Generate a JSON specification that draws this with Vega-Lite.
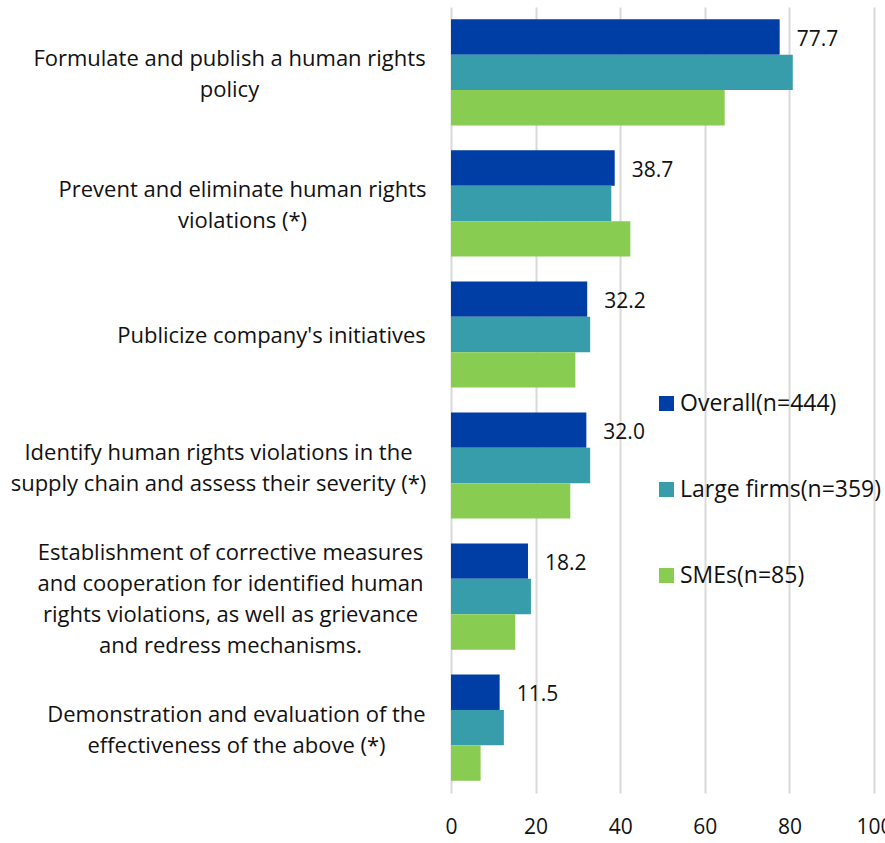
{
  "$schema": "https://vega.github.io/schema/vega-lite/v6.json",
  "autosize": {"type": "none"},
  "padding": {"left": 451, "top": 7, "right": 11, "bottom": 50},
  "width": 423,
  "height": 786,
  "background": "white",
  "config": {
    "view": {"stroke": null},
    "font": "Open Sans"
  },
  "data": {
    "values": [
      {"item": "Formulate and publish a human rights|policy", "series": "Overall(n=444)", "value": 77.7},
      {"item": "Formulate and publish a human rights|policy", "series": "Large firms(n=359)", "value": 80.8},
      {"item": "Formulate and publish a human rights|policy", "series": "SMEs(n=85)", "value": 64.7},
      {"item": "Prevent and eliminate human rights|violations (*)", "series": "Overall(n=444)", "value": 38.7},
      {"item": "Prevent and eliminate human rights|violations (*)", "series": "Large firms(n=359)", "value": 37.9},
      {"item": "Prevent and eliminate human rights|violations (*)", "series": "SMEs(n=85)", "value": 42.4},
      {"item": "Publicize company's initiatives", "series": "Overall(n=444)", "value": 32.2},
      {"item": "Publicize company's initiatives", "series": "Large firms(n=359)", "value": 32.9},
      {"item": "Publicize company's initiatives", "series": "SMEs(n=85)", "value": 29.4},
      {"item": "Identify human rights violations in the|supply chain and assess their severity (*)", "series": "Overall(n=444)", "value": 32.0},
      {"item": "Identify human rights violations in the|supply chain and assess their severity (*)", "series": "Large firms(n=359)", "value": 32.9},
      {"item": "Identify human rights violations in the|supply chain and assess their severity (*)", "series": "SMEs(n=85)", "value": 28.2},
      {"item": "Establishment of corrective measures|and cooperation for identified human|rights violations, as well as grievance|and redress mechanisms.", "series": "Overall(n=444)", "value": 18.2},
      {"item": "Establishment of corrective measures|and cooperation for identified human|rights violations, as well as grievance|and redress mechanisms.", "series": "Large firms(n=359)", "value": 18.9},
      {"item": "Establishment of corrective measures|and cooperation for identified human|rights violations, as well as grievance|and redress mechanisms.", "series": "SMEs(n=85)", "value": 15.2},
      {"item": "Demonstration and evaluation of the|effectiveness of the above (*)", "series": "Overall(n=444)", "value": 11.5},
      {"item": "Demonstration and evaluation of the|effectiveness of the above (*)", "series": "Large firms(n=359)", "value": 12.5},
      {"item": "Demonstration and evaluation of the|effectiveness of the above (*)", "series": "SMEs(n=85)", "value": 7.0}
    ]
  },
  "encoding": {
    "y": {
      "field": "item",
      "type": "nominal",
      "sort": null,
      "scale": {"paddingInner": 0.19, "paddingOuter": 0.094},
      "axis": {
        "title": null,
        "domain": false,
        "ticks": false,
        "labelExpr": "split(datum.label, '|')",
        "labelAlign": "center",
        "labelBaseline": "middle",
        "labelFontSize": 22,
        "labelLineHeight": 31,
        "labelColor": "#111111",
        "labelLimit": 0,
        "labelOffset": {
          "condition": [
            {"test": "length(split(datum.value, '|')) == 2", "value": -13},
            {"test": "length(split(datum.value, '|')) == 4", "value": -44}
          ],
          "value": 2
        },
        "labelPadding": {
          "condition": [
            {"test": "indexof(datum.value, 'Formulate') == 0", "value": 222},
            {"test": "indexof(datum.value, 'Prevent') == 0", "value": 209},
            {"test": "indexof(datum.value, 'Publicize') == 0", "value": 180},
            {"test": "indexof(datum.value, 'Identify') == 0", "value": 233},
            {"test": "indexof(datum.value, 'Establishment') == 0", "value": 221}
          ],
          "value": 215
        }
      }
    },
    "x": {
      "field": "value",
      "type": "quantitative",
      "scale": {"domain": [0, 100]},
      "axis": {
        "title": null,
        "domain": false,
        "ticks": false,
        "values": [0, 20, 40, 60, 80, 100],
        "grid": true,
        "gridColor": "#d9d9d9",
        "gridWidth": 2,
        "labelFontSize": 21,
        "labelColor": "#111111",
        "labelPadding": 23,
        "labelFlush": false
      }
    }
  },
  "layer": [
    {
      "mark": {"type": "bar"},
      "encoding": {
        "yOffset": {
          "field": "series",
          "type": "nominal",
          "sort": ["Overall(n=444)", "Large firms(n=359)", "SMEs(n=85)"],
          "scale": {"paddingInner": 0, "paddingOuter": 0}
        },
        "color": {
          "field": "series",
          "type": "nominal",
          "sort": ["Overall(n=444)", "Large firms(n=359)", "SMEs(n=85)"],
          "scale": {
            "domain": ["Overall(n=444)", "Large firms(n=359)", "SMEs(n=85)"],
            "range": ["#003da5", "#389daa", "#88cc52"]
          },
          "legend": {
            "title": null,
            "orient": "none",
            "legendX": 204,
            "legendY": 385,
            "padding": 0,
            "symbolType": "square",
            "symbolSize": 225,
            "symbolStrokeWidth": 0,
            "labelFontSize": 23,
            "labelColor": "#111111",
            "labelOffset": 2,
            "rowPadding": 62,
            "labelLimit": 0
          }
        }
      }
    },
    {
      "transform": [{"filter": "datum.series == 'Overall(n=444)'"}],
      "mark": {"type": "text", "align": "left", "baseline": "middle", "dx": 17, "dy": 3, "fontSize": 21, "color": "#111111"},
      "encoding": {
        "yOffset": {
          "field": "series",
          "type": "nominal",
          "sort": ["Overall(n=444)", "Large firms(n=359)", "SMEs(n=85)"],
          "scale": {"domain": ["Overall(n=444)", "Large firms(n=359)", "SMEs(n=85)"], "paddingInner": 0, "paddingOuter": 0}
        },
        "text": {"field": "value", "type": "quantitative", "format": ".1f"}
      }
    }
  ]
}
